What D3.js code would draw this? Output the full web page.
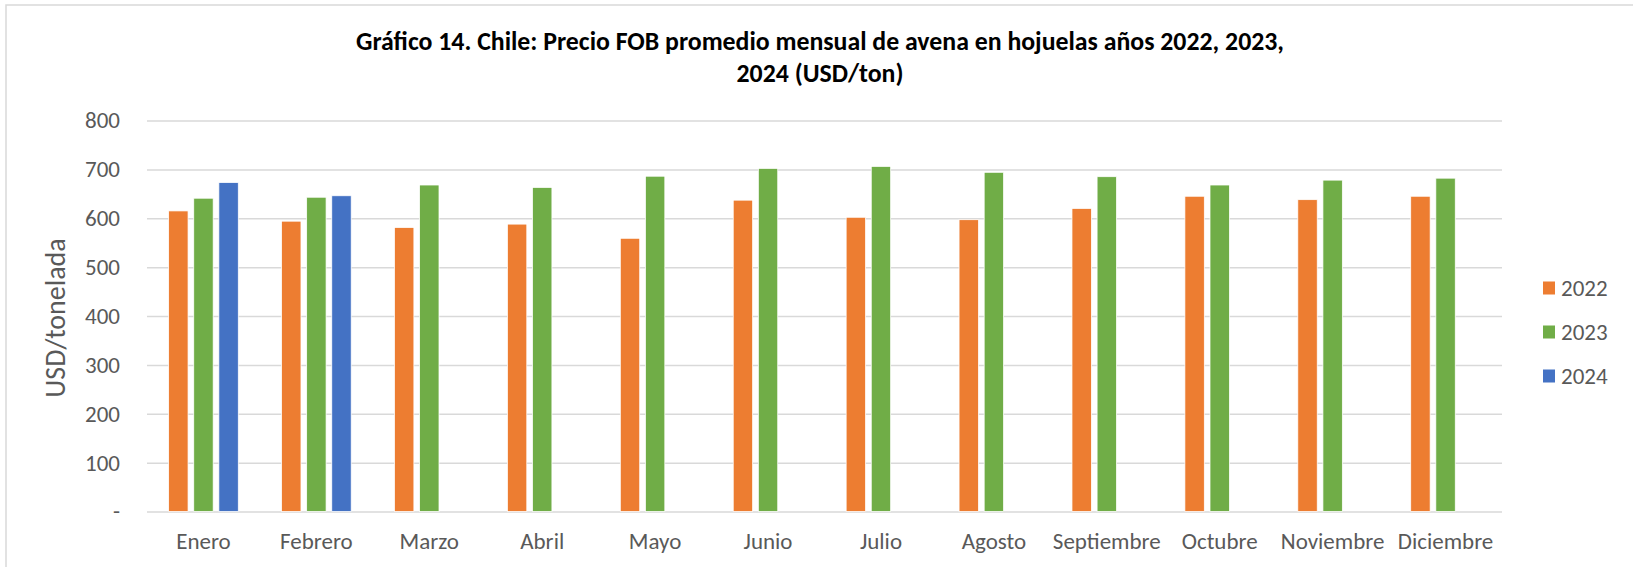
<!DOCTYPE html>
<html>
<head>
<meta charset="utf-8">
<script src="https://cdn.jsdelivr.net/npm/d3@7"></script>
<style>
  body { margin: 0; background: #fff; }
  text { font-family: Calibri, Carlito, "Liberation Sans", Arial, sans-serif; }
  .axis text { fill: #595959; font-size: 23px; }
  .grid line { stroke: #d9d9d9; stroke-width: 1.5; }
</style>
</head>
<body>
<div id="chart"></div>
<script>
// months on the x axis
var months = ["Enero", "Febrero", "Marzo", "Abril", "Mayo", "Junio",
  "Julio", "Agosto", "Septiembre", "Octubre", "Noviembre", "Diciembre"];

// series, USD/ton
var years = ["2022", "2023", "2024"];
var v2022 = [615, 594, 581, 588, 559, 637, 602, 597, 620, 645, 638, 645];
var v2023 = [641, 643, 668, 663, 686, 702, 706, 694, 685, 668, 678, 682];
var v2024 = [673, 646];

var yTicks = [0, 100, 200, 300, 400, 500, 600, 700, 800];
var colors = ["#ED7D31", "#70AD47", "#4472C4"];

var titleLines = ["Gráfico 14. Chile: Precio FOB promedio mensual de avena en hojuelas años 2022, 2023,",
  "2024 (USD/ton)"];

var W = 1633, H = 567;
var margin = {top: 120.5, right: 131, bottom: 55.5, left: 147};
var width = W - margin.left - margin.right;
var height = H - margin.top - margin.bottom;

// flatten to one row per bar
var rows = [];
[v2022, v2023, v2024].forEach(function(vals, i) {
  vals.forEach(function(v, j) {
    rows.push({month: months[j], year: years[i], value: v});
  });
});

var svgparent = d3.select("#chart").append("svg")
  .attr("width", W)
  .attr("height", H);

// chart frame (only top and left edges show in the picture)
svgparent.append("path")
  .attr("d", "M6," + H + "V5H" + W)
  .attr("fill", "none")
  .attr("stroke", "#d9d9d9")
  .attr("stroke-width", 1.5);

var svg = svgparent.append("g")
  .attr("transform", "translate(" + margin.left + "," + margin.top + ")");

var x0 = d3.scaleBand().domain(months).range([0, width]);
var x1 = d3.scaleBand().domain(years).range([0, x0.bandwidth()])
  .paddingInner(0.227).paddingOuter(0.862);
var y = d3.scaleLinear().domain([0, 800]).range([height, 0]);

// gridlines + y labels
var yAxis = svg.append("g")
  .attr("class", "axis grid")
  .call(d3.axisLeft(y).tickValues(yTicks).tickSizeInner(-width).tickSizeOuter(0).tickPadding(27)
    .tickFormat(function(d) { return d === 0 ? "-" : d; }));
yAxis.select(".domain").remove();

var xAxis = svg.append("g")
  .attr("class", "axis")
  .attr("transform", "translate(0," + height + ")")
  .call(d3.axisBottom(x0).tickSize(0).tickPadding(21));
xAxis.select(".domain").remove();

// bars
svg.selectAll("rect.bar")
  .data(rows)
  .enter().append("rect")
  .attr("class", "bar")
  .attr("x", function(d) { return x0(d.month) + x1(d.year); })
  .attr("width", x1.bandwidth())
  .attr("y", function(d) { return y(d.value); })
  .attr("height", function(d) { return height - y(d.value); })
  .attr("fill", function(d) { return colors[years.indexOf(d.year)]; })
  .attr("stroke", "#fff")
  .attr("stroke-width", 0.75);

// title
svgparent.append("text")
  .attr("x", 820)
  .attr("y", 50)
  .attr("text-anchor", "middle")
  .style("font-weight", "bold")
  .style("font-size", "25.8px")
  .style("fill", "#000")
  .selectAll("tspan")
  .data(titleLines)
  .enter().append("tspan")
  .attr("x", 820)
  .attr("dy", function(d, i) { return i === 0 ? 0 : 32; })
  .text(function(d) { return d; });

// y label
svgparent.append("text")
  .attr("transform", "translate(65,318) rotate(-90)")
  .attr("text-anchor", "middle")
  .style("font-size", "28px")
  .style("fill", "#595959")
  .text("USD/tonelada");

// legend
var legend = svgparent.selectAll("g.legend")
  .data(years)
  .enter().append("g")
  .attr("class", "legend")
  .attr("transform", function(d, i) { return "translate(1543," + (288 + i * 44) + ")"; });

legend.append("rect")
  .attr("x", 0)
  .attr("y", -6.5)
  .attr("width", 12)
  .attr("height", 13)
  .attr("fill", function(d, i) { return colors[i]; });

legend.append("text")
  .attr("x", 18)
  .attr("dy", "0.35em")
  .style("font-size", "23px")
  .style("fill", "#595959")
  .text(function(d) { return d; });
</script>
</body>
</html>
